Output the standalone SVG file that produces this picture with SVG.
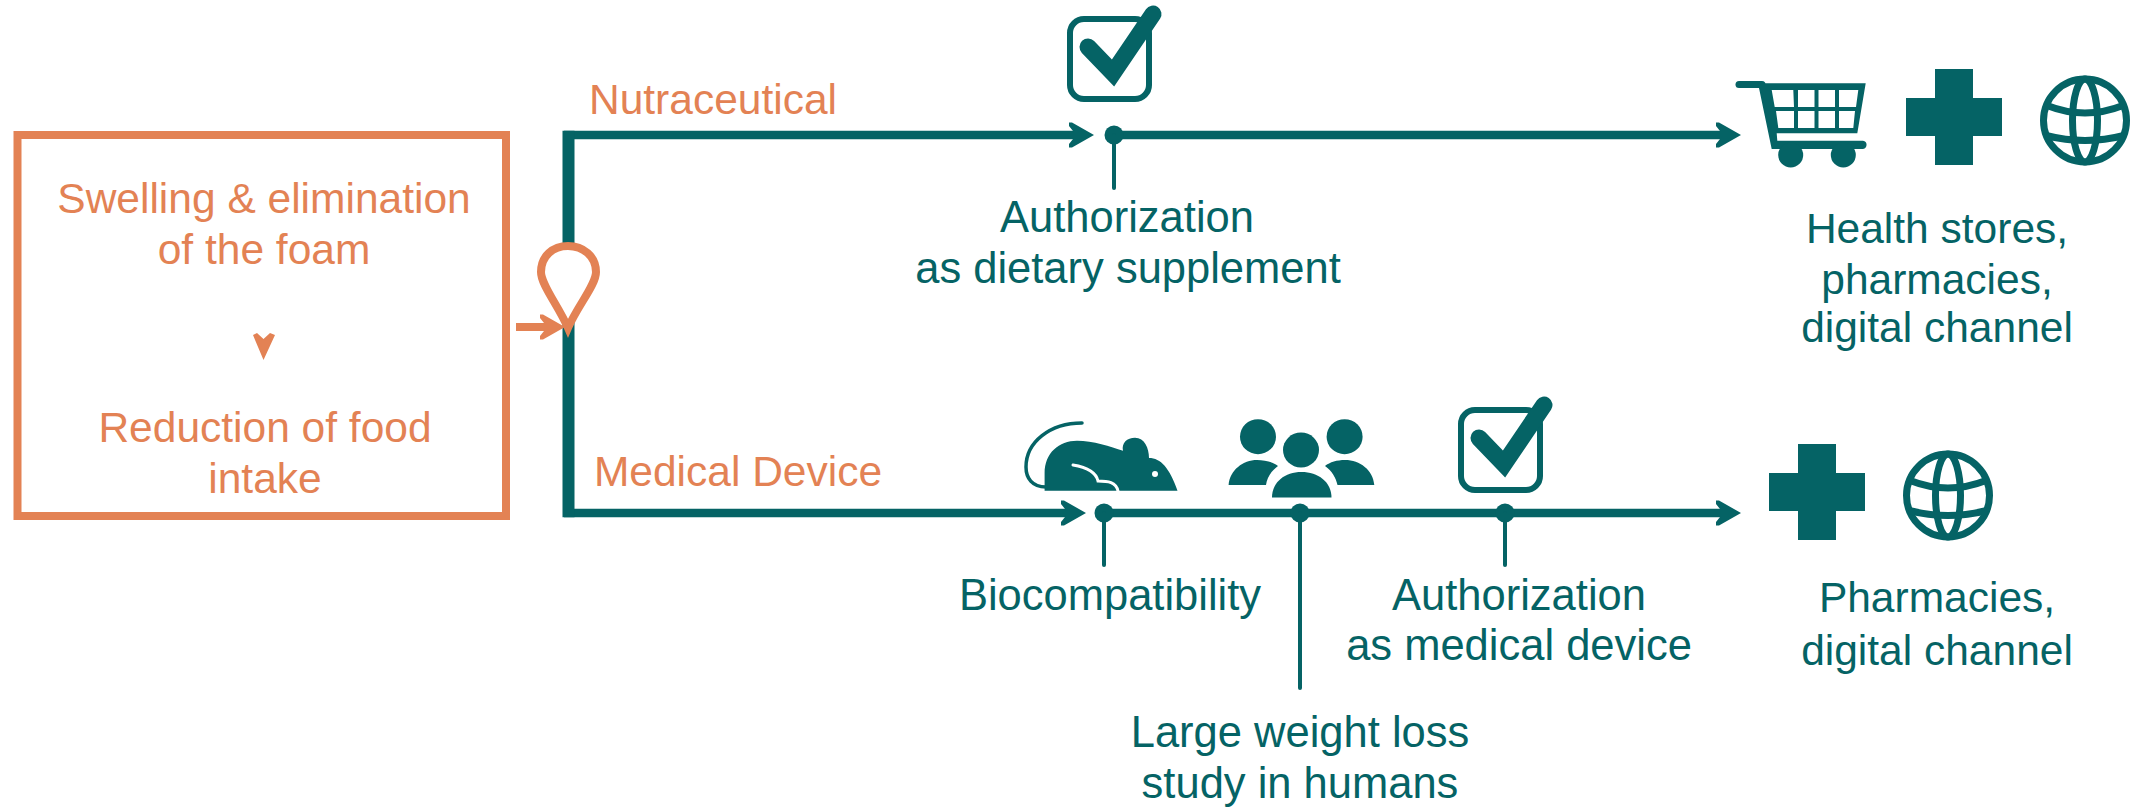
<svg xmlns="http://www.w3.org/2000/svg" width="2136" height="808" viewBox="0 0 2136 808">
<style>
text{font-family:"Liberation Sans",Arial,sans-serif;font-size:42.5px;text-anchor:middle}
text.w{font-size:43.5px}
.o{fill:#E38254}.t{fill:#056365}
.l{fill:none;stroke:#056365}
.main{stroke-width:8.500}
.stem{stroke-width:4;stroke-linecap:round}
.cell{fill:#fff}
</style>
<defs>
<path id="ah" d="M0,0 L-22,-12.500 L-25,-12.500 L-25,-9 L-21,-4 V4 L-25,9 V12.500 L-22,12.500 Z"/>
<g id="check">
<rect x="1070" y="19" width="79" height="80" rx="14" fill="none" stroke="#056365" stroke-width="6"/>
<path d="M1088,47 L1113,73 L1153,14" fill="none" stroke="#056365" stroke-width="17" stroke-linecap="round" stroke-linejoin="miter"/>
</g>
<path id="plus" class="t" d="M29,0H67V29H96V67H67V96H29V67H0V29H29Z"/>
<g id="globe" fill="none" stroke="#056365" stroke-width="7">
<circle cx="0" cy="0" r="41.500"/>
<ellipse cx="0" cy="0" rx="12.500" ry="41.500"/>
<path d="M-38,-15 Q0,0 38,-15 M-39,15 Q0,25 39,15"/>
</g>
</defs>

<g id="connectors">
<path class="l main" d="M1076,135 H564 M1068,513 H564"/>
<path class="l" d="M568.500,130.800 V517.200" stroke-width="12"/>
<use href="#ah" x="1094" y="135" class="t"/>
<use href="#ah" x="1086" y="513" class="t"/>
<path class="l main" d="M1114,135 H1724"/>
<use href="#ah" x="1741" y="135" class="t"/>
<path class="l main" d="M1104,513 H1724"/>
<use href="#ah" x="1741" y="513" class="t"/>
<circle class="t" cx="1114" cy="135" r="9.500"/>
<path class="l stem" d="M1114,135 V188"/>
<circle class="t" cx="1104" cy="513" r="9.500"/>
<path class="l stem" d="M1104,513 V565"/>
<circle class="t" cx="1300" cy="513" r="9.500"/>
<path class="l stem" d="M1300,513 V688"/>
<circle class="t" cx="1505" cy="513" r="9.500"/>
<path class="l stem" d="M1505,513 V565"/>
<path d="M516,327 H548" fill="none" stroke="#E38254" stroke-width="8"/>
<use href="#ah" x="565" y="327" class="o"/>
<path id="pin" d="M568,328 C558,305 541,285 541,272 C541,256 553,246 568,246 C583,246 596,256 596,272 C596,285 578,305 568,328 Z" fill="#fff" stroke="#E38254" stroke-width="8"/>
</g>

<g id="box">
<rect x="17.500" y="135" width="488.500" height="381" fill="#fff" stroke="#E38254" stroke-width="8"/>
<text class="o" x="264" y="213">Swelling &amp; elimination</text>
<text class="o" x="264" y="264">of the foam</text>
<path class="o" d="M253,335 L257,333 L263.500,339 L270,333 L275,335 L263.500,360 Z"/>
<text class="o" x="265" y="442">Reduction of food</text>
<text class="o" x="265" y="493">intake</text>
</g>

<g id="label-nutraceutical"><text class="o" x="713" y="114">Nutraceutical</text></g>
<g id="label-medical"><text class="o" x="738" y="486">Medical Device</text></g>

<g id="authorization-supplement">
<use href="#check"/>
<text class="t w" x="1127" y="232">Authorization</text>
<text class="t w" x="1128" y="283">as dietary supplement</text>
</g>

<g id="retail">
<g id="cart">
<path d="M1739,84.500 H1762" fill="none" stroke="#056365" stroke-width="7" stroke-linecap="round"/>
<path class="t" d="M1758,83.300 H1865.700 L1857.300,133.300 H1776.700 L1777.300,140.700 H1863 A4.200,4.200 0 0 1 1863,149 H1771.700 Z"/>
<path class="cell" d="M1771.700,90 H1793.300 L1794,107 H1774.700 Z M1798,90 H1814.500 V107 H1798 Z M1818.500,90 H1835 V107 H1818.500 Z M1839,90 H1858.300 L1856,107 H1839 Z M1776,111 H1794 V128 H1778.300 Z M1798,111 H1814.500 V128 H1798 Z M1818.500,111 H1835 V128 H1818.500 Z M1839,111 H1855 L1853.300,128 H1839 Z"/>
<circle class="t" cx="1790.700" cy="155" r="12.500"/>
<circle class="t" cx="1843.300" cy="155" r="12.500"/>
</g>
<use href="#plus" x="1906" y="69"/>
<use href="#globe" x="2085" y="120.500"/>
<text class="t" x="1937" y="243">Health stores,</text>
<text class="t" x="1937" y="294">pharmacies,</text>
<text class="t" x="1937" y="342">digital channel</text>
</g>

<g id="biocompatibility">
<path class="t" d="M1044.600,490.700 V473 C1044.600,453 1059,440.700 1077,440.700 C1093,440.700 1110.700,446.700 1123,450.700 C1121.400,443 1127,437.700 1135,437.700 C1144.600,437.700 1149,448 1149,458 C1160.700,458 1169.600,468 1177.500,490.700 Z"/>
<path d="M1046,487 C1032,487 1026,478 1026,467 C1026,442 1050,423 1082,423" fill="none" stroke="#056365" stroke-width="3.500" stroke-linecap="round"/>
<path d="M1073,465 C1085,467 1096,472 1098,481 C1108,481 1116,482 1118,491" fill="none" stroke="#fff" stroke-width="3" stroke-linecap="round"/>
<circle cx="1155" cy="474" r="3" fill="#fff"/>
<text class="t w" x="1110" y="610">Biocompatibility</text>
</g>

<g id="study">
<ellipse class="t" cx="1258" cy="436.700" rx="18" ry="17.500"/>
<ellipse class="t" cx="1301" cy="450" rx="18" ry="17.500"/>
<ellipse class="t" cx="1344.600" cy="436.700" rx="18" ry="17.500"/>
<path class="t" d="M1272,497.500 C1272,482 1285,472 1301.500,472 C1318,472 1331.500,482 1331.500,497.500 Z"/>
<path class="t" d="M1228.600,485 C1230,470 1243,460 1257,460 C1265,460 1273,462 1278,466 C1271,471 1267,478 1266,485 Z"/>
<path class="t" d="M1374.300,485 C1373,470 1360,460 1345,460 C1337,460 1330,462 1325,466 C1332,471 1336,478 1337.500,485 Z"/>
<text class="t w" x="1300" y="747">Large weight loss</text>
<text class="t w" x="1300" y="798">study in humans</text>
</g>

<g id="authorization-device">
<use href="#check" x="391" y="391"/>
<text class="t w" x="1519" y="610">Authorization</text>
<text class="t w" x="1519" y="660">as medical device</text>
</g>

<g id="pharma">
<use href="#plus" x="1769" y="444"/>
<use href="#globe" x="1948" y="495.500"/>
<text class="t" x="1937" y="612">Pharmacies,</text>
<text class="t" x="1937" y="665">digital channel</text>
</g>
</svg>
